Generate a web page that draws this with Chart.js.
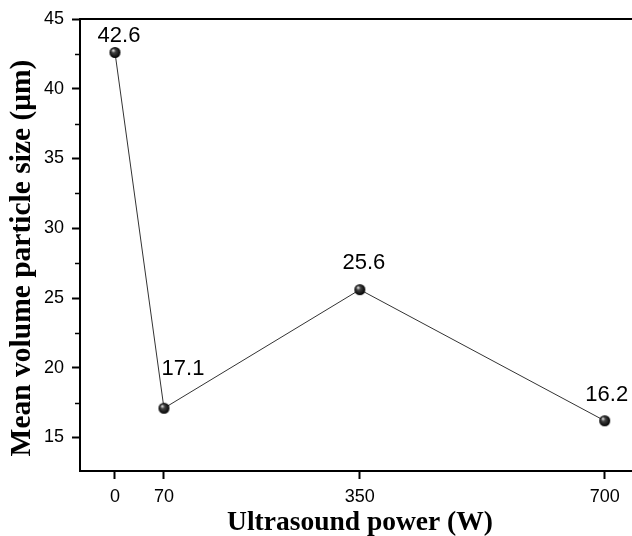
<!DOCTYPE html>
<html>
<head>
<meta charset="utf-8">
<title>Mean volume particle size vs ultrasound power</title>
<script src="https://cdn.jsdelivr.net/npm/chart.js@4.4.1/dist/chart.umd.min.js"></script>
<style>
    html, body { margin: 0; padding: 0; background: #fff; }
    canvas { display: block; }
</style>
</head>
<body>
<canvas id="sizeChart" width="632" height="536"></canvas>
<script>
const powers = [0, 70, 350, 700];
const particleSize = [42.6, 17.1, 25.6, 16.2];
const xTicks = [0, 70, 350, 700];
const yTicks = [15, 20, 25, 30, 35, 40, 45];
const yMinorTicks = [17.5, 22.5, 27.5, 32.5, 37.5, 42.5];
const xTitle = 'Ultrasound power (W)';
const yTitle = 'Mean volume particle size (μm)';

// pixel nudges for the value labels so they sit clear of the line
const labelShift = [[4, -17], [19, -39], [4, -27], [2, -26]];

// little shaded ball used as the point marker
function makeSphere(r) {
    const c = document.createElement('canvas');
    c.width = c.height = r * 2 + 2;
    const g = c.getContext('2d');
    const cx = r + 1, cy = r + 1;
    const grad = g.createRadialGradient(cx - r * 0.35, cy - r * 0.4, 0.5, cx, cy, r);
    grad.addColorStop(0, '#e0e0e0');
    grad.addColorStop(0.3, '#444');
    grad.addColorStop(1, '#000');
    g.fillStyle = grad;
    g.beginPath();
    g.arc(cx, cy, r, 0, Math.PI * 2);
    g.fill();
    return c;
}

const frame = {
    id: 'frame',
    afterDraw(chart) {
        const ctx = chart.ctx;
        const area = chart.chartArea;
        const y = chart.scales.y;
        ctx.save();
        ctx.strokeStyle = '#000';
        // top border
        ctx.lineWidth = 2;
        ctx.beginPath();
        ctx.moveTo(area.left - 1, area.top);
        ctx.lineTo(area.right, area.top);
        ctx.stroke();
        // short minor ticks on the y axis
        ctx.lineWidth = 1.5;
        yMinorTicks.forEach(v => {
            const py = Math.round(y.getPixelForValue(v)) + 0.5;
            ctx.beginPath();
            ctx.moveTo(area.left - 5, py);
            ctx.lineTo(area.left, py);
            ctx.stroke();
        });
        // axis titles
        ctx.fillStyle = '#000';
        ctx.textAlign = 'center';
        ctx.textBaseline = 'middle';
        ctx.font = 'bold 27.5px "Liberation Serif", "Times New Roman", serif';
        ctx.fillText(xTitle, (area.left + area.right) / 2 + 4, 522.5);
        ctx.translate(22, (area.top + area.bottom) / 2 + 13);
        ctx.rotate(-Math.PI / 2);
        ctx.font = 'bold 29.5px "Liberation Serif", "Times New Roman", serif';
        ctx.fillText(yTitle, 0, 0);
        ctx.restore();
    }
};

const valueLabels = {
    id: 'valueLabels',
    afterDatasetsDraw(chart) {
        const ctx = chart.ctx;
        const meta = chart.getDatasetMeta(0);
        ctx.save();
        ctx.font = '22px "Liberation Sans", Arial, sans-serif';
        ctx.fillStyle = '#000';
        ctx.textAlign = 'center';
        ctx.textBaseline = 'middle';
        meta.data.forEach((pt, i) => {
            const s = labelShift[i];
            ctx.fillText(particleSize[i].toFixed(1), pt.x + s[0], pt.y + s[1]);
        });
        ctx.restore();
    }
};

const tickFont = { family: '"Liberation Sans", Arial, sans-serif', size: 18 };

new Chart(document.getElementById('sizeChart'), {
    type: 'scatter',
    data: {
        datasets: [{
            data: powers.map((p, i) => ({ x: p, y: particleSize[i] })),
            showLine: true,
            borderColor: '#333',
            borderWidth: 1,
            pointStyle: makeSphere(5.5),
            pointRadius: 5.5,
            pointHoverRadius: 5.5
        }]
    },
    options: {
        responsive: false,
        animation: false,
        layout: { autoPadding: false, padding: { top: 19, right: 0, bottom: 0, left: 0 } },
        plugins: {
            legend: { display: false },
            tooltip: { enabled: false }
        },
        scales: {
            x: {
                type: 'linear',
                min: -50,
                max: 739,
                afterBuildTicks: s => { s.ticks = xTicks.map(v => ({ value: v })); },
                afterFit: s => { s.height = 65; s.paddingLeft = 0; s.paddingRight = 0; },
                grid: { drawOnChartArea: false, color: '#000', tickLength: 8, tickWidth: 2 },
                border: { color: '#000', width: 2 },
                ticks: { color: '#000', font: tickFont, padding: 7, maxRotation: 0 }
            },
            y: {
                min: 12.6,
                max: 45,
                afterBuildTicks: s => { s.ticks = yTicks.map(v => ({ value: v })); },
                afterFit: s => { s.width = 80; },
                grid: { drawOnChartArea: false, color: '#000', tickLength: 8, tickWidth: 2 },
                border: { color: '#000', width: 2 },
                ticks: { color: '#000', font: tickFont, padding: 8 }
            }
        }
    },
    plugins: [frame, valueLabels]
});
</script>
</body>
</html>
